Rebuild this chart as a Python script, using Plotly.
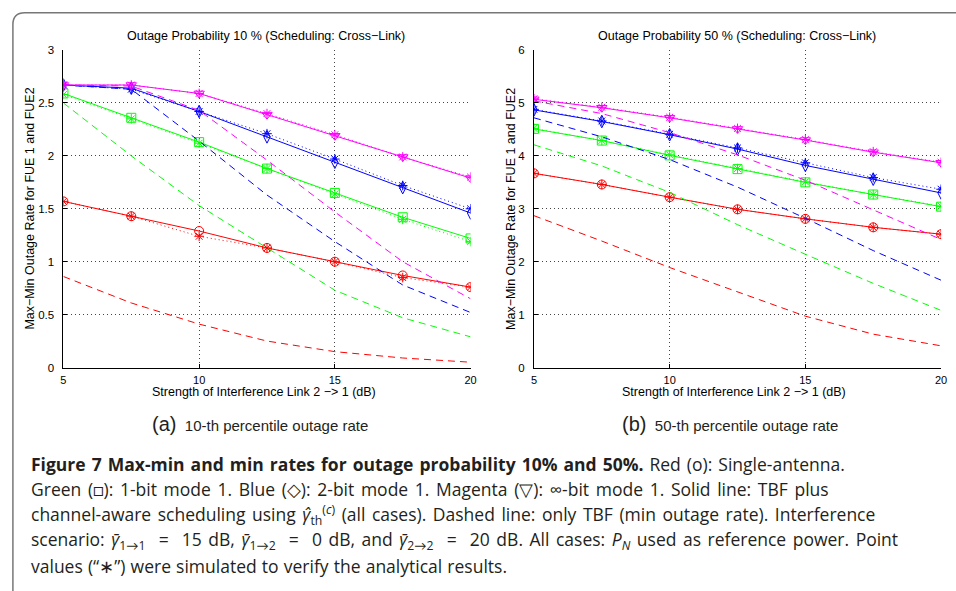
import plotly.graph_objects as go

W, H = 956, 591

x_db = [5, 7.5, 10, 12.5, 15, 17.5, 20]

# ---- Panel (a): outage probability 10 %
a_red_solid = [1.57, 1.43, 1.29, 1.13, 1.00, 0.87, 0.76]
a_red_sim = [1.57, 1.43, 1.24, 1.13, 1.00, 0.85, 0.76]
a_red_dash = [0.86, 0.61, 0.41, 0.25, 0.15, 0.09, 0.05]
a_green_solid = [2.59, 2.36, 2.13, 1.88, 1.65, 1.42, 1.22]
a_green_sim = [2.58, 2.35, 2.12, 1.88, 1.64, 1.40, 1.19]
a_green_dash = [2.50, 2.00, 1.53, 1.13, 0.73, 0.47, 0.29]
a_blue_solid = [2.67, 2.64, 2.42, 2.18, 1.94, 1.70, 1.46]
a_blue_sim = [2.67, 2.63, 2.42, 2.21, 1.97, 1.72, 1.50]
a_blue_dash = [2.67, 2.63, 2.14, 1.63, 1.19, 0.78, 0.52]
a_mag_solid = [2.67, 2.67, 2.59, 2.39, 2.19, 1.99, 1.79]
a_mag_sim = [2.67, 2.67, 2.59, 2.40, 2.20, 1.99, 1.80]
a_mag_dash = [2.67, 2.66, 2.43, 1.96, 1.47, 1.00, 0.65]

# ---- Panel (b): outage probability 50 %
b_red_solid = [3.67, 3.46, 3.22, 2.99, 2.81, 2.65, 2.52]
b_red_sim = [3.67, 3.46, 3.22, 2.99, 2.81, 2.65, 2.52]
b_red_dash = [2.87, 2.39, 1.89, 1.43, 0.97, 0.63, 0.41]
b_green_solid = [4.51, 4.29, 4.01, 3.75, 3.50, 3.27, 3.04]
b_green_sim = [4.52, 4.29, 4.02, 3.76, 3.51, 3.27, 3.05]
b_green_dash = [4.21, 3.81, 3.31, 2.70, 2.14, 1.59, 1.08]
b_blue_solid = [4.87, 4.65, 4.40, 4.13, 3.82, 3.56, 3.30]
b_blue_sim = [4.88, 4.66, 4.41, 4.15, 3.87, 3.59, 3.37]
b_blue_dash = [4.72, 4.36, 3.93, 3.41, 2.82, 2.21, 1.65]
b_mag_solid = [5.07, 4.91, 4.72, 4.51, 4.30, 4.07, 3.87]
b_mag_sim = [5.08, 4.92, 4.73, 4.52, 4.31, 4.08, 3.88]
b_mag_dash = [5.04, 4.80, 4.44, 4.02, 3.54, 2.98, 2.42]

x_ticks = [5, 10, 15, 20]
a_y_ticks = [0, 0.5, 1, 1.5, 2, 2.5, 3]
a_y_ticktext = ["0", "0.5", "1", "1.5", "2", "2.5", "3"]
b_y_ticks = [0, 1, 2, 3, 4, 5, 6]

RED, GREEN, BLUE, MAG = "#ff0000", "#00ff00", "#0000ff", "#ff00ff"
AXFONT = "Liberation Sans, Arial, Helvetica, sans-serif"
CAPFONT = "'Open Sans', Lato, 'Noto Sans', sans-serif"

fig = go.Figure()

def add_panel(xa, ya, series):
    for color, sym, solid, sim, dash in series:
        fig.add_trace(go.Scatter(x=x_db, y=dash, mode="lines", xaxis=xa, yaxis=ya,
                                 line=dict(color=color, width=1, dash="7px,5px"),
                                 showlegend=False, hoverinfo="skip"))
        fig.add_trace(go.Scatter(x=x_db, y=sim, mode="lines+markers", xaxis=xa, yaxis=ya,
                                 line=dict(color=color, width=1, dash="1px,3px"),
                                 marker=dict(symbol="asterisk-open", size=8, color=color,
                                             line=dict(color=color, width=1)),
                                 showlegend=False, hoverinfo="skip"))
        fig.add_trace(go.Scatter(x=x_db, y=solid, mode="lines+markers", xaxis=xa, yaxis=ya,
                                 line=dict(color=color, width=1),
                                 marker=dict(symbol=sym, size=9, color=color,
                                             line=dict(color=color, width=1)),
                                 showlegend=False, hoverinfo="skip"))

add_panel("x", "y", [
    (RED, "circle-open", a_red_solid, a_red_sim, a_red_dash),
    (GREEN, "square-open", a_green_solid, a_green_sim, a_green_dash),
    (BLUE, "diamond-tall-open", a_blue_solid, a_blue_sim, a_blue_dash),
    (MAG, "triangle-down-open", a_mag_solid, a_mag_sim, a_mag_dash),
])
add_panel("x2", "y2", [
    (RED, "circle-open", b_red_solid, b_red_sim, b_red_dash),
    (GREEN, "square-open", b_green_solid, b_green_sim, b_green_dash),
    (BLUE, "diamond-tall-open", b_blue_solid, b_blue_sim, b_blue_dash),
    (MAG, "triangle-down-open", b_mag_solid, b_mag_sim, b_mag_dash),
])

def px(v):
    return v / W

def py(v):
    return 1 - v / H

common_x = dict(range=[5, 20], tickvals=x_ticks, showgrid=True, gridcolor="#444",
                griddash="1px,3px", gridwidth=1, zeroline=False, showline=True,
                linecolor="black", linewidth=1, ticks="inside", ticklen=4,
                tickcolor="black", ticklabeloverflow="allow", ticklabelstandoff=2,
                tickfont=dict(family=AXFONT, size=11, color="black"))
common_y = dict(showgrid=True, gridcolor="#444", griddash="1px,3px", gridwidth=1,
                zeroline=False, showline=True, linecolor="black", linewidth=1,
                ticks="inside", ticklen=4, tickcolor="black",
                ticklabeloverflow="allow", ticklabelstandoff=6,
                tickfont=dict(family=AXFONT, size=11.5, color="black"))

fig.update_layout(
    width=W, height=H, margin=dict(l=0, r=0, t=0, b=0),
    paper_bgcolor="white", plot_bgcolor="white",
    xaxis=dict(domain=[px(61), px(472)], anchor="y", **common_x),
    yaxis=dict(domain=[py(369), py(45)], anchor="x", range=[0, 3],
               tickvals=a_y_ticks, ticktext=a_y_ticktext, **common_y),
    xaxis2=dict(domain=[px(536), px(947)], anchor="y2", **common_x),
    yaxis2=dict(domain=[py(369), py(45)], anchor="x2", range=[0, 6],
                tickvals=b_y_ticks, **common_y),
)

annots = []
tfont = dict(family=AXFONT, size=12.5, color="black")
for cx, title in [(266, "Outage Probability 10 % (Scheduling: Cross−Link)"),
                  (741, "Outage Probability 50 % (Scheduling: Cross−Link)")]:
    annots.append(dict(x=px(cx), y=py(31), xref="paper", yref="paper", text=title,
                       showarrow=False, xanchor="center", yanchor="middle", font=tfont))
for cx in [263, 738]:
    annots.append(dict(x=px(cx), y=py(393.5), xref="paper", yref="paper",
                       text="Strength of Interference Link 2 −> 1 (dB)",
                       showarrow=False, xanchor="center", yanchor="middle", font=tfont))
for cx in [27, 513]:
    annots.append(dict(x=px(cx), y=py(207), xref="paper", yref="paper",
                       text="Max−Min Outage Rate for FUE 1 and FUE2", textangle=-90,
                       showarrow=False, xanchor="center", yanchor="middle", font=tfont))

# sub-captions
for lx, letter, txt in [(148, "(a)", "10-th percentile outage rate"),
                        (623, "(b)", "50-th percentile outage rate")]:
    annots.append(dict(x=px(lx), y=py(427), xref="paper", yref="paper",
                       text=f"<span style='font-size:20px'>{letter}</span>&nbsp; {txt}",
                       showarrow=False, xanchor="left", yanchor="middle",
                       font=dict(family=AXFONT, size=15, color="#231f20")))

cap_lines = [
    ("<b>Figure 7 Max-min and min rates for outage probability 10% and 50%.</b> Red (o): Single-antenna.", 1.5),
    ("Green (□): 1-bit mode 1. Blue (◇): 2-bit mode 1. Magenta (▽): ∞-bit mode 1. Solid line: TBF plus", 2.1),
    ("channel-aware scheduling using <i>γ̂</i><sub>th</sub><sup>(<i>c</i>)</sup> (all cases). Dashed line: only TBF (min outage rate). Interference", 2.0),
    ("scenario: <i>γ̄</i><sub>1→1</sub> &nbsp;=&nbsp; 15 dB, <i>γ̄</i><sub>1→2</sub> &nbsp;=&nbsp; 0 dB, and <i>γ̄</i><sub>2→2</sub> &nbsp;=&nbsp; 20 dB. All cases: <i>P<sub>N</sub></i> used as reference power. Point", 2.0),
    ("values (“∗”) were simulated to verify the analytical results.", 0.6),
]
for i, (line, ws) in enumerate(cap_lines):
    annots.append(dict(x=px(26), y=py(467.5 + 25.9 * i), xref="paper", yref="paper",
                       text=f"<span style='word-spacing:{ws}px'>{line}</span>",
                       showarrow=False, xanchor="left", yanchor="middle",
                       font=dict(family=CAPFONT, size=17.5, color="#231f20")))

fig.update_layout(annotations=annots)

# rounded frame around the figure
r = 12
x0, y0 = px(10), py(7)
frame = (f"M {x0} {py(600)} L {x0} {py(7 + r)} Q {x0} {y0} {px(10 + r)} {y0} "
         f"L {px(970)} {y0}")
fig.add_shape(type="path", path=frame, xref="paper", yref="paper",
              line=dict(color="#777", width=1.5))

fig.write_html("out.html", config={"displayModeBar": False},
               post_script="document.body.style.margin='0';document.body.style.overflow='hidden';")
